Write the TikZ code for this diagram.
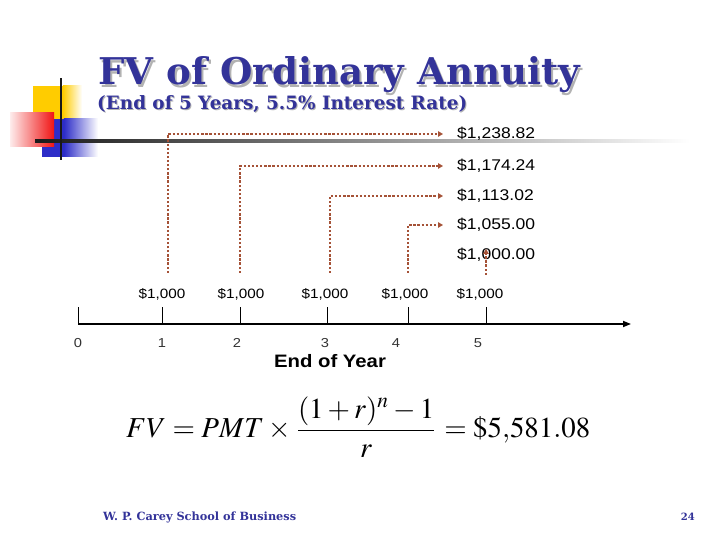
\documentclass[tikz,border=0pt]{standalone}
\usepackage{mathptmx}
\usepackage[no-math]{fontspec}
\setmainfont{Liberation Sans}
\newfontfamily\tfont{DejaVu Serif}
\usepackage{graphicx}
\usetikzlibrary{arrows.meta}
\definecolor{ttl}{RGB}{51,51,153}
\definecolor{brn}{RGB}{165,82,55}
\definecolor{sqy}{RGB}{255,204,0}
\definecolor{sqb}{RGB}{45,45,200}
\definecolor{sqr}{RGB}{240,20,20}
\newcommand{\wide}[1]{\scalebox{1.13}[1]{#1}}
\newcommand{\shadowed}[3]{\rlap{\raisebox{-#3}{\hspace*{#3}\textcolor{black!30}{#2}}}\textcolor{#1}{#2}}
\begin{document}
\begin{tikzpicture}[x=1pt,y=-1pt,
  dotc/.style={draw=brn,line width=2.3pt,dash pattern=on 2.3pt off 1.8pt,
    -{Triangle[length=5pt,width=5.5pt]},shorten >=14pt},
  val/.style={anchor=west,inner sep=0pt,font=\fontsize{15.5}{16}\selectfont},
  pay/.style={inner sep=0pt,font=\fontsize{13.5}{14}\selectfont},
  yr/.style={inner sep=0pt,text=black!80,font=\fontsize{13}{14}\selectfont},
  tick/.style={line width=1pt},
]
\useasboundingbox (0,0) rectangle (720,540);
% decorative squares
\fill[sqy] (33,86) rectangle (63,119);
\shade[left color=sqy,right color=white] (62.9,86) rectangle (82,119);
\fill[sqb] (42,119) rectangle (64,157);
\shade[left color=sqb,right color=white] (63.9,119) rectangle (98,157);
\shade[left color=sqr!8,right color=sqr] (10,113) rectangle (54,147);
\shade[left color=black!90,right color=white] (35,140) rectangle (690,143);
\fill[black!90] (59.8,78) rectangle (62.2,160);
% title
\node[anchor=base west,inner sep=0pt] (title) at (98,85)
  {\shadowed{ttl}{\resizebox{482pt}{28pt}{\tfont\bfseries FV of Ordinary Annuity}}{2pt}};
\node[anchor=base west,inner sep=0pt] (sub) at (97,110)
  {\shadowed{ttl}{\resizebox{370pt}{!}{\tfont\bfseries (End of 5 Years, 5.5\% Interest Rate)}}{1pt}};
% values
\node[val] (v1) at (457,134) {\wide{\$1,238.82}};
\node[val] (v2) at (457,166) {\wide{\$1,174.24}};
\node[val] (v3) at (457,196) {\wide{\$1,113.02}};
\node[val] (v4) at (457,225) {\wide{\$1,055.00}};
\node[val] (v5) at (457,255) {\wide{\$1,000.00}};
% payments
\node[pay] (p1) at (162,294) {\wide{\$1,000}};
\node[pay] (p2) at (241,294) {\wide{\$1,000}};
\node[pay] (p3) at (325,294) {\wide{\$1,000}};
\node[pay] (p4) at (405,294) {\wide{\$1,000}};
\node[pay] (p5) at (480,294) {\wide{\$1,000}};
% connectors
\draw[dotc] ([xshift=6pt,yshift=15pt]p1.north) |- (v1.west);
\draw[dotc] ([xshift=-1pt,yshift=15pt]p2.north) |- (v2.west);
\draw[dotc] ([xshift=5pt,yshift=15pt]p3.north) |- (v3.west);
\draw[dotc] ([xshift=3pt,yshift=15pt]p4.north) |- (v4.west);
\draw[dotc,shorten >=0pt] ([xshift=6pt,yshift=13pt]p5.north) -- ([xshift=6pt,yshift=13pt]p5.north |- v5.south);
% timeline
\coordinate (t0) at (78,324);
\coordinate (t1) at (162,324);
\coordinate (t2) at (240,324);
\coordinate (t3) at (327,324);
\coordinate (t4) at (408,324);
\coordinate (t5) at (486,324);
\coordinate (te) at (631,324);
\draw[line width=1.6pt,-{Triangle[length=8pt,width=6pt]}] (t0) -- (te);
\foreach \t in {t0,t1,t2,t3,t4,t5} \draw[tick] (\t) -- ++(0,-17);
\node[yr] (n0) at (78,343) {\wide{0}};
\node[yr] (n1) at (162,343) {\wide{1}};
\node[yr] (n2) at (237,343) {\wide{2}};
\node[yr] (n3) at (325,343) {\wide{3}};
\node[yr] (n4) at (396,343) {\wide{4}};
\node[yr] (n5) at (478,343) {\wide{5}};
\node[inner sep=0pt,font=\fontsize{18}{18}\selectfont\bfseries] (eoy) at (330,361) {\wide{End of Year}};
% formula
\node[anchor=west,inner sep=0pt] (f) at (126,427)
  {\resizebox{464pt}{!}{$\displaystyle FV = PMT \times \frac{(1+r)^n-1}{r} = \$5{,}581.08$}};
% footer
\node[anchor=base west,inner sep=0pt,text=ttl] (foot) at (103,520)
  {\resizebox{193pt}{!}{\tfont\bfseries W. P. Carey School of Business}};
\node[anchor=base east,inner sep=0pt,text=ttl,font=\tfont\bfseries\fontsize{10}{10}\selectfont] (pg) at (695,520) {24};
\end{tikzpicture}
\end{document}
